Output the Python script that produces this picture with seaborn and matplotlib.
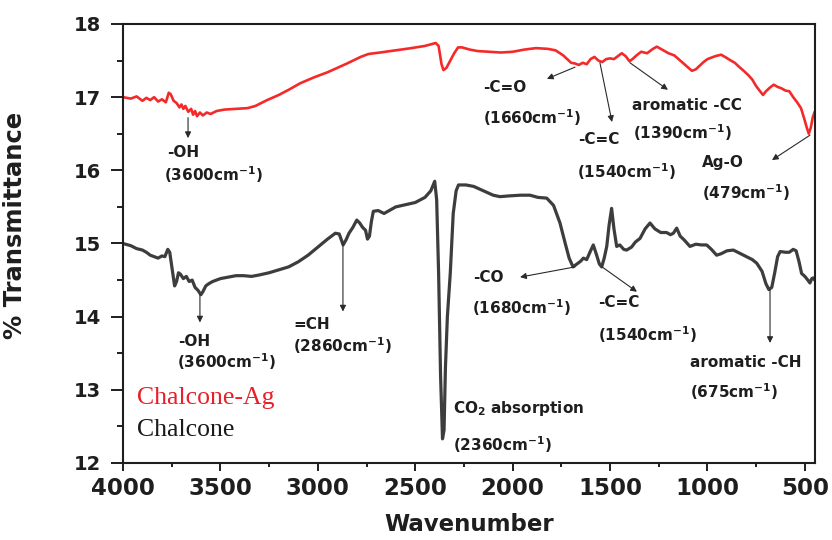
import numpy as np
import pandas as pd
import matplotlib
matplotlib.use("Agg")
import matplotlib.pyplot as plt
import seaborn as sns

# FTIR spectrum of Chalcone-Ag (wavenumber in cm^-1, % transmittance)
ag_wavenumber = [4000, 3960, 3930, 3900, 3880, 3860, 3840, 3820, 3800, 3780, 3765, 3755,
                 3740, 3725, 3710, 3700, 3690, 3680, 3665, 3650, 3640, 3630, 3620, 3605,
                 3590, 3570, 3550, 3520, 3480, 3420, 3360, 3320, 3260, 3200, 3150, 3090,
                 3020, 2950, 2900, 2850, 2780, 2740, 2680, 2600, 2520, 2450, 2395, 2380,
                 2365, 2355, 2340, 2320, 2300, 2280, 2260, 2220, 2180, 2120, 2060, 2000,
                 1940, 1880, 1820, 1780, 1740, 1700, 1680, 1660, 1640, 1620, 1600, 1580,
                 1560, 1540, 1520, 1500, 1480, 1460, 1440, 1420, 1400, 1385, 1360, 1340,
                 1310, 1280, 1260, 1240, 1220, 1200, 1170, 1140, 1110, 1080, 1060, 1040,
                 1020, 1000, 960, 930, 910, 880, 860, 840, 810, 790, 770, 750, 730, 715,
                 700, 680, 660, 640, 620, 600, 580, 560, 540, 520, 505, 490, 480, 470,
                 460, 450]
ag_transmittance = [17.00, 16.98, 17.01, 16.95, 16.99, 16.96, 17.00, 16.94, 16.97, 16.93,
                    17.06, 17.04, 16.95, 16.92, 16.86, 16.90, 16.84, 16.88, 16.80, 16.84,
                    16.76, 16.81, 16.74, 16.79, 16.75, 16.79, 16.77, 16.81, 16.83, 16.84,
                    16.85, 16.88, 16.96, 17.03, 17.10, 17.19, 17.27, 17.34, 17.40, 17.46,
                    17.55, 17.59, 17.61, 17.64, 17.67, 17.70, 17.74, 17.70, 17.45, 17.37,
                    17.40, 17.50, 17.60, 17.68, 17.68, 17.65, 17.63, 17.62, 17.61, 17.62,
                    17.65, 17.67, 17.66, 17.64, 17.57, 17.47, 17.46, 17.44, 17.47, 17.45,
                    17.52, 17.55, 17.50, 17.48, 17.52, 17.53, 17.52, 17.56, 17.60, 17.56,
                    17.49, 17.52, 17.58, 17.62, 17.60, 17.66, 17.69, 17.66, 17.63, 17.60,
                    17.57, 17.50, 17.43, 17.36, 17.38, 17.43, 17.48, 17.52, 17.56, 17.58,
                    17.55, 17.50, 17.47, 17.42, 17.35, 17.30, 17.24, 17.15, 17.08, 17.03,
                    17.08, 17.13, 17.17, 17.14, 17.12, 17.09, 17.08, 17.00, 16.93, 16.85,
                    16.72, 16.58, 16.50, 16.58, 16.72, 16.80]

# FTIR spectrum of Chalcone
ch_wavenumber = [4000, 3960, 3930, 3900, 3880, 3860, 3840, 3820, 3800, 3785, 3770, 3760,
                 3745, 3735, 3725, 3715, 3705, 3690, 3675, 3660, 3645, 3630, 3615, 3600,
                 3590, 3575, 3560, 3540, 3500, 3460, 3420, 3380, 3340, 3300, 3250, 3200,
                 3150, 3100, 3050, 3000, 2950, 2910, 2890, 2870, 2855, 2840, 2820, 2800,
                 2785, 2770, 2755, 2745, 2735, 2725, 2715, 2690, 2660, 2640, 2600, 2550,
                 2500, 2450, 2420, 2400, 2390, 2380, 2370, 2360, 2352, 2345, 2335, 2320,
                 2305, 2290, 2278, 2240, 2200, 2150, 2100, 2065, 2020, 1960, 1911, 1870,
                 1825, 1790, 1757, 1730, 1710, 1690, 1670, 1650, 1637, 1620, 1600, 1586,
                 1570, 1555, 1543, 1530, 1517, 1505, 1492, 1480, 1466, 1450, 1430, 1415,
                 1390, 1370, 1346, 1320, 1295, 1270, 1240, 1210, 1190, 1175, 1158, 1140,
                 1120, 1090, 1060, 1030, 1004, 980, 953, 930, 900, 867, 830, 800, 770,
                 747, 720, 700, 685, 670, 655, 640, 627, 600, 580, 560, 545, 530, 517,
                 500, 485, 474, 465, 457, 450]
ch_transmittance = [15.00, 14.97, 14.93, 14.91, 14.88, 14.84, 14.82, 14.80, 14.83, 14.82,
                    14.92, 14.88, 14.60, 14.42, 14.48, 14.60, 14.58, 14.52, 14.55, 14.48,
                    14.50, 14.40, 14.36, 14.30, 14.34, 14.42, 14.45, 14.48, 14.52, 14.54,
                    14.56, 14.56, 14.55, 14.57, 14.60, 14.64, 14.68, 14.75, 14.84, 14.95,
                    15.06, 15.14, 15.13, 14.98, 15.05, 15.14, 15.22, 15.32, 15.28, 15.22,
                    15.18, 15.06, 15.10, 15.30, 15.44, 15.45, 15.41, 15.44, 15.50, 15.53,
                    15.56, 15.63, 15.72, 15.85, 15.60, 14.60, 13.20, 12.33, 12.45, 13.30,
                    14.00, 14.60, 15.41, 15.72, 15.80, 15.80, 15.78, 15.72, 15.66, 15.64,
                    15.65, 15.66, 15.66, 15.63, 15.62, 15.52, 15.28, 15.00, 14.80, 14.68,
                    14.72, 14.76, 14.80, 14.78, 14.90, 14.98, 14.85, 14.72, 14.68, 14.80,
                    14.96, 15.25, 15.48, 15.20, 14.96, 14.98, 14.92, 14.91, 14.95, 15.02,
                    15.07, 15.20, 15.28, 15.20, 15.15, 15.15, 15.12, 15.14, 15.21, 15.10,
                    15.05, 14.96, 14.99, 14.98, 14.98, 14.92, 14.84, 14.86, 14.90, 14.91,
                    14.86, 14.82, 14.78, 14.73, 14.62, 14.45, 14.37, 14.40, 14.60, 14.82,
                    14.89, 14.88, 14.88, 14.92, 14.90, 14.75, 14.59, 14.55, 14.50, 14.46,
                    14.52, 14.53, 14.50]

x_ticks = [4000, 3500, 3000, 2500, 2000, 1500, 1000, 500]
y_ticks = [12, 13, 14, 15, 16, 17, 18]

RED = "#f42a2a"
DARK = "#3d3d3d"

sns.set_theme(style="ticks")
plt.rcParams["font.family"] = ["DejaVu Sans"]
plt.rcParams["mathtext.fontset"] = "dejavusans"

ag = pd.DataFrame({"Wavenumber": ag_wavenumber, "T": ag_transmittance})
ch = pd.DataFrame({"Wavenumber": ch_wavenumber, "T": ch_transmittance})

fig, ax = plt.subplots(figsize=(8.32, 5.40), dpi=100)
fig.subplots_adjust(left=0.1478, right=0.9796, bottom=0.1426, top=0.9556)

sns.lineplot(data=ag, x="Wavenumber", y="T", ax=ax, color=RED, lw=1.9,
             estimator=None, sort=False)
sns.lineplot(data=ch, x="Wavenumber", y="T", ax=ax, color=DARK, lw=2.3,
             estimator=None, sort=False)

ax.set_xlim(4000, 448)
ax.set_ylim(12, 18)
ax.set_xticks(x_ticks)
ax.set_xticks(np.arange(3750, 449, -500), minor=True)
ax.set_yticks(y_ticks)
ax.set_yticks(np.arange(12.5, 18, 1.0), minor=True)

for s in ax.spines.values():
    s.set_visible(True)
    s.set_linewidth(1.5)
    s.set_color("#1e1e1e")

ax.tick_params(axis="x", which="major", direction="out", length=6, width=1.4,
               pad=4, labelsize=16.5, colors="#1e1e1e")
ax.tick_params(axis="x", which="minor", direction="out", length=3, width=1.4,
               colors="#1e1e1e")
ax.tick_params(axis="y", which="major", direction="out", length=9, width=1.4,
               pad=7, labelsize=14, colors="#1e1e1e")
ax.tick_params(axis="y", which="minor", direction="out", length=4, width=1.4,
               colors="#1e1e1e")
for lab in ax.get_xticklabels() + ax.get_yticklabels():
    lab.set_fontweight("bold")

ax.set_xlabel("Wavenumber", fontsize=16.5, fontweight="bold", color="#1e1e1e")
ax.set_ylabel("% Transmittance", fontsize=17.5, fontweight="bold", color="#1e1e1e")
ax.xaxis.set_label_coords(0.5, -0.141)
ax.xaxis.label.set_va("center")
ax.yaxis.set_label_coords(-0.139, 0.542)

# Band assignments: (tail on the spectrum, arrow head, label lines)
arrow_kw = dict(arrowstyle="-|>", color="#2a2a2a", lw=0.8, shrinkA=0, shrinkB=0,
                mutation_scale=9)
label_kw = dict(fontsize=11, fontweight="bold", color="#1e1e1e", ha="left", va="center")

def band(tail, head, name, name_xy, wn_text, wn_xy):
    if tail is not None:
        ax.annotate("", xy=head, xytext=tail, arrowprops=arrow_kw)
    ax.text(*name_xy, name, **label_kw)
    ax.text(*wn_xy, wn_text, **label_kw)

cm = r"cm$^{\mathbf{-1}}$"

# Chalcone-Ag bands
band((3666, 16.72), (3666, 16.44), "-OH", (3774, 16.24), "(3600" + cm + ")", (3790, 15.94))
band((1680, 17.41), (1824, 17.25), "-C=O", (2152, 17.13), "(1660" + cm + ")", (2152, 16.72))
band((1552, 17.47), (1490, 16.66), "-C=C", (1665, 16.42), "(1540" + cm + ")", (1670, 15.98))
band((1398, 17.47), (1203, 17.10), "aromatic -CC", (1387, 16.89), "(1390" + cm + ")", (1382, 16.52))
band((474, 16.48), (669, 16.14), "Ag-O", (1028, 16.10), "(479" + cm + ")", (1028, 15.69))

# Chalcone bands
band((3605, 14.30), (3605, 13.92), "-OH", (3718, 13.66), "(3600" + cm + ")", (3723, 13.38))
band((2871, 15.01), (2871, 14.07), "=CH", (3127, 13.89), "(2860" + cm + ")", (3127, 13.61))
band(None, None, r"CO$_{\mathbf{2}}$ absorption", (2306, 12.75), "(2360" + cm + ")", (2306, 12.25))
band((1680, 14.68), (1962, 14.54), "-CO", (2203, 14.53), "(1680" + cm + ")", (2209, 14.12))
band((1541, 14.68), (1362, 14.34), "-C=C", (1562, 14.19), "(1540" + cm + ")", (1562, 13.75))
band((679, 14.37), (679, 13.64), "aromatic -CH", (1090, 13.37), "(675" + cm + ")", (1090, 12.97))

# Series names
ax.text(0.020, 0.148, "Chalcone-Ag", transform=ax.transAxes, fontsize=18.5,
        family="Liberation Serif", color="#e8202a", ha="left", va="center")
ax.text(0.020, 0.075, "Chalcone", transform=ax.transAxes, fontsize=18.5,
        family="Liberation Serif", color="#1a1a1a", ha="left", va="center")

fig.savefig("out.png", dpi=100, facecolor="white")
